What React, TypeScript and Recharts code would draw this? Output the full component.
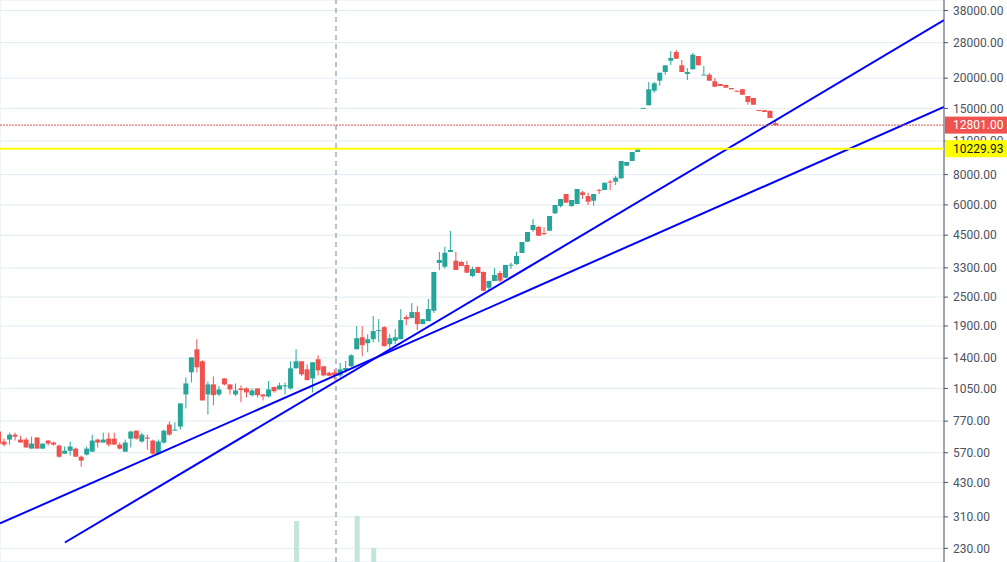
import React from 'react';
import { ComposedChart, Bar, XAxis, YAxis, CartesianGrid, ReferenceLine } from 'recharts';

// OHLC per candle (oldest first)
const opens = [
  697, 634, 646, 677, 646, 646, 593, 659, 593, 640, 628, 610, 565, 581, 593, 549, 560, 576, 646, 628,
  652, 652, 616, 576, 652, 703, 634, 659, 640, 565, 628, 745, 703, 731, 992, 1224, 1523, 1359, 992, 1091,
  992, 1155, 1091, 992, 1050, 1050, 985, 1050, 992, 973, 1065, 1040, 1070, 1050, 1271, 1359, 1259, 1155, 1385, 1296,
  1218, 1222, 1188, 1250, 1296, 1523, 1708, 1614, 1676, 1812, 1879, 1598, 1650, 1676, 2068, 2048, 2168, 1934, 1990, 2196,
  3456, 3337, 3836, 3532, 3489, 3391, 3055, 3327, 3173, 2733, 2913, 3143, 3006, 3380, 3423, 3800, 4230, 4727, 4864, 4590,
  4696, 5540, 5937, 6654, 5937, 6051, 6761, 6529, 6243, 6925, 6911, 7490, 7478, 7723, 8705, 9102, 9914, 15040, 15450, 17748,
  19516, 21197, 23598, 25630, 22589, 20797, 21747, 24675, 20640, 20660, 19405, 18914, 18735, 18209, 17748, 17985, 16877, 16560, 14776, 14734,
  14678, 13024,
];
const highs = [
  710, 652, 690, 690, 670, 659, 664, 659, 622, 642, 634, 616, 605, 634, 599, 555, 605, 677, 652, 690,
  690, 690, 628, 646, 703, 703, 690, 677, 646, 646, 710, 767, 760, 911, 1166, 1411, 1676, 1372, 1122, 1177,
  1074, 1155, 1091, 1101, 1081, 1060, 1050, 1050, 992, 1126, 1065, 1110, 1110, 1359, 1523, 1359, 1320, 1346, 1439, 1296,
  1230, 1259, 1340, 1362, 1452, 1898, 1898, 1758, 2088, 2028, 1898, 1758, 1844, 2231, 2107, 2362, 2295, 2028, 2454, 3173,
  3836, 4034, 4682, 3848, 3522, 3522, 3337, 3340, 3190, 2913, 3287, 3203, 3391, 3465, 3848, 4218, 4638, 5248, 4910, 4851,
  5400, 5994, 6345, 6654, 6285, 6977, 6865, 6735, 6654, 6977, 7407, 7600, 7916, 9102, 9015, 9914, 10230, 15080, 19276, 19276,
  21056, 22589, 25874, 26121, 23755, 22017, 25387, 24675, 22439, 20996, 20023, 18914, 18735, 18209, 17748, 18088, 16877, 16560, 14776, 14734,
  14678, 13438,
];
const lows = [
  610, 605, 616, 640, 628, 599, 593, 593, 593, 610, 610, 544, 565, 555, 549, 499, 555, 576, 599, 628,
  605, 616, 587, 576, 599, 646, 628, 587, 560, 560, 622, 670, 703, 710, 868, 1112, 1224, 937, 820, 896,
  976, 1081, 992, 976, 920, 964, 973, 964, 937, 964, 1009, 1040, 992, 1040, 1271, 1181, 1136, 1011, 1188, 1177,
  1180, 1144, 1166, 1220, 1290, 1523, 1425, 1480, 1629, 1630, 1568, 1523, 1598, 1676, 1916, 2048, 1827, 1934, 1990, 2149,
  3234, 3274, 3836, 3234, 3359, 3143, 3017, 3143, 2640, 2674, 2913, 2886, 2988, 3265, 3391, 3800, 4230, 4651, 4465, 4508,
  4696, 5503, 5864, 6126, 5898, 6051, 6345, 5994, 5954, 6654, 6911, 6911, 7247, 7690, 8705, 9102, 9914, 15040, 15450, 17414,
  18611, 20660, 22653, 24050, 21197, 19646, 21747, 22589, 20640, 19516, 18435, 18558, 18262, 17985, 17580, 17087, 15538, 15538, 14678, 14498,
  13696, 12801,
];
const closes = [
  622, 616, 677, 664, 628, 599, 622, 593, 622, 622, 616, 549, 581, 605, 549, 529, 593, 640, 628, 646,
  616, 616, 593, 628, 697, 652, 677, 652, 565, 634, 703, 677, 710, 911, 1101, 1411, 1283, 937, 1091, 985,
  1040, 1091, 1040, 1030, 1033, 1011, 1030, 985, 973, 1040, 1023, 1081, 1081, 1271, 1359, 1200, 1136, 1346, 1247, 1188,
  1185, 1188, 1259, 1275, 1439, 1692, 1583, 1676, 1810, 1827, 1568, 1692, 1708, 2009, 2028, 2168, 1934, 2028, 2231, 3173,
  3556, 3811, 3910, 3234, 3359, 3152, 3265, 3143, 2656, 2913, 3084, 2921, 3391, 3400, 3693, 4218, 4638, 4957, 4478, 4572,
  5400, 5994, 6345, 6126, 6285, 6977, 6591, 6184, 6654, 6900, 7407, 7466, 7767, 9102, 9015, 9914, 10230, 15080, 17985, 19040,
  21056, 22589, 24211, 24050, 21197, 21197, 24981, 22589, 20680, 19516, 18435, 18558, 18262, 17985, 17580, 17087, 15942, 15538, 14678, 14498,
  13696, 12801,
];
// [candle index, volume] - only the bars that rise high enough to show
const volumes: [number, number][] = [[54, 73], [65, 82], [68, 25]];

const priceTicks = [230, 310, 430, 570, 770, 1050, 1400, 1900, 2500, 3300, 4500, 6000, 8000, 11000, 15000, 20000, 28000, 38000];
const monthTicks = [15, 32, 50, 66, 84, 98, 115, 131, 147, 164];
const lastPrice = 12801;
const markedPrice = 10229.93;
const crosshairIndex = 61.2;
const trendA = [{ x: 12, y: 243.1 }, { x: 171.54, y: 34667 }];
const trendB = [{ x: 0.22, y: 291.3 }, { x: 171.54, y: 15200 }];

const UP = '#26a69a';
const DOWN = '#ef5350';
const W = 1007;
const H = 562;
const AXIS_W = 63;
const xDomain: [number, number] = [0.22, 171.54];
const yDomain: [number, number] = [202, 42000];

const candles = opens.map((o, i) => ({
  i,
  open: o,
  high: highs[i],
  low: lows[i],
  close: closes[i],
  range: [lows[i], highs[i]],
}));
const volumeRows = volumes.map(([i, v]) => ({ i, v }));

function Candle(props: any) {
  const { x, y, width, height, payload } = props;
  const { open, close, high, low } = payload;
  const color = close >= open ? UP : DOWN;
  const span = Math.log(high) - Math.log(low);
  const toY = (v: number) => (span === 0 ? y : y + (height * (Math.log(high) - Math.log(v))) / span);
  const cx = x + width / 2;
  const top = toY(Math.max(open, close));
  const bottom = toY(Math.min(open, close));
  return (
    <g>
      <line x1={cx} x2={cx} y1={y} y2={y + height} stroke={color} strokeWidth={1} />
      <rect x={cx - 2.5} y={top} width={5} height={Math.max(bottom - top, 1)} fill={color} />
    </g>
  );
}

function PriceTag(props: any) {
  const { viewBox, text, bg, fg } = props;
  if (!viewBox) return null;
  const { x, y, width } = viewBox;
  return (
    <g>
      <rect x={x + width + 1} y={y - 8.5} width={AXIS_W - 1} height={17} fill={bg} />
      <text x={x + width + 9} y={y} dy="0.36em" fill={fg} fontSize={12} fontFamily="Roboto, sans-serif">
        {text}
      </text>
    </g>
  );
}

export default function App() {
  return (
    <div style={{ position: 'absolute', left: 0, top: 0, width: W, height: H, background: '#fff' }}>
      <div style={{ position: 'absolute', left: 0, top: 0 }}>
        <ComposedChart width={W} height={H} data={candles} margin={{ top: 0, right: 0, bottom: 0, left: 0 }}>
          <CartesianGrid stroke="#e1ebf2" />
          <XAxis
            type="number"
            dataKey="i"
            domain={xDomain}
            allowDataOverflow
            ticks={monthTicks}
            height={0}
            tick={false}
            axisLine={false}
            tickLine={false}
          />
          <YAxis
            orientation="right"
            scale="log"
            domain={yDomain}
            allowDataOverflow
            ticks={priceTicks}
            interval={0}
            width={AXIS_W}
            tickSize={4}
            tickMargin={5}
            axisLine={{ stroke: '#50535e' }}
            tickLine={{ stroke: '#50535e' }}
            tick={{ fill: '#4c525e', fontSize: 12, fontFamily: 'Roboto, sans-serif' }}
            tickFormatter={(v: number) => v.toFixed(2)}
          />
          <Bar dataKey="range" shape={<Candle />} barSize={5} isAnimationActive={false} />
          <ReferenceLine x={crosshairIndex} stroke="#758696" strokeDasharray="5 4" />
          <ReferenceLine segment={trendA} stroke="#0000ff" strokeWidth={2} ifOverflow="hidden" />
          <ReferenceLine segment={trendB} stroke="#0000ff" strokeWidth={2} ifOverflow="hidden" />
        </ComposedChart>
      </div>
      {/* top layer: volume bars and the price lines with their tags over the axis labels */}
      <div style={{ position: 'absolute', left: 0, top: 0 }}>
        <ComposedChart width={W} height={H} data={volumeRows} margin={{ top: 0, right: AXIS_W, bottom: 0, left: 0 }}>
          <XAxis type="number" dataKey="i" domain={xDomain} allowDataOverflow hide />
          <YAxis yAxisId="vol" domain={[0, 1000]} hide />
          <YAxis yAxisId="price" scale="log" domain={yDomain} allowDataOverflow hide />
          <Bar yAxisId="vol" dataKey="v" fill="#c2e6d8" barSize={5} isAnimationActive={false} />
          <ReferenceLine
            yAxisId="price"
            y={lastPrice}
            stroke="#d9534f"
            strokeDasharray="2 1"
            label={<PriceTag text={lastPrice.toFixed(2)} bg={DOWN} fg="#ffffff" />}
          />
          <ReferenceLine
            yAxisId="price"
            y={markedPrice}
            stroke="#ffff00"
            strokeWidth={2}
            label={<PriceTag text={markedPrice.toFixed(2)} bg="#ffff00" fg="#131722" />}
          />
        </ComposedChart>
      </div>
    </div>
  );
}
